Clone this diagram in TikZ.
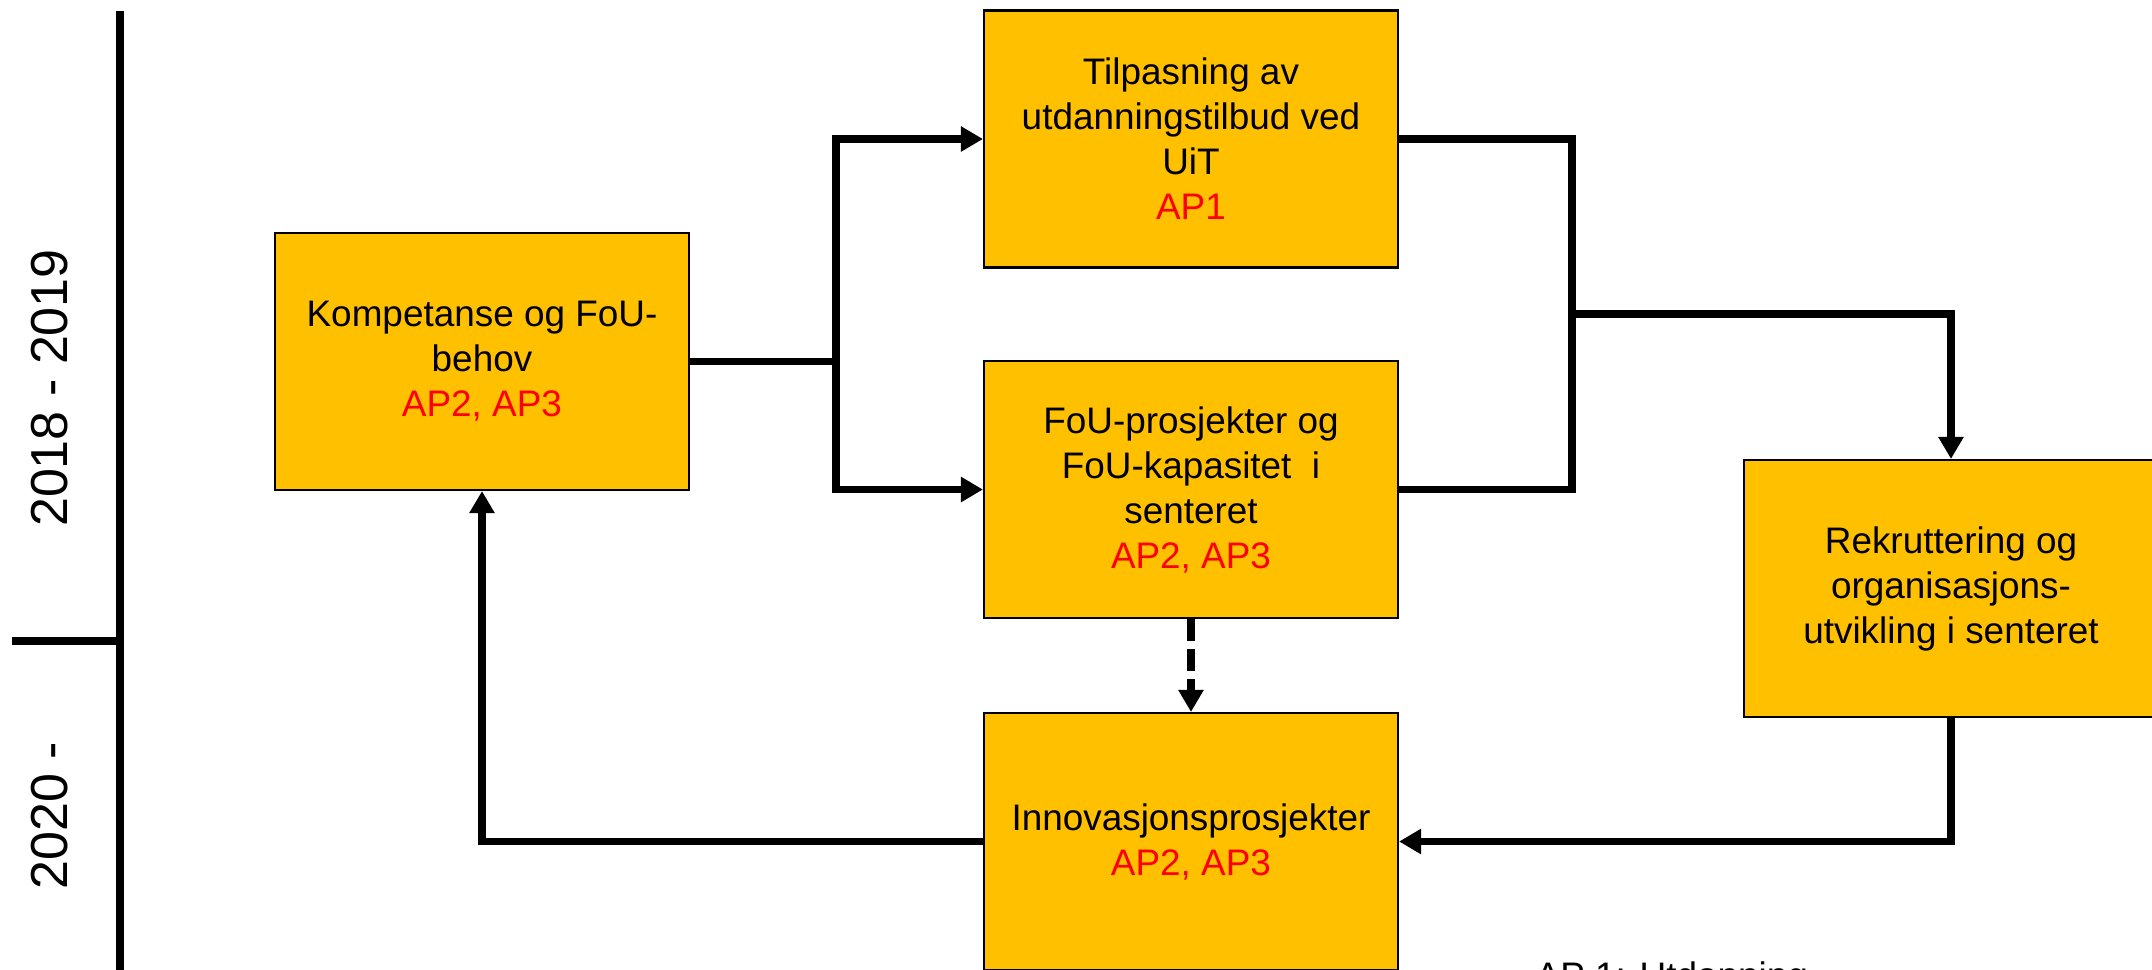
\documentclass[tikz,border=0pt]{standalone}
\usepackage{fontspec}
\setmainfont{Liberation Sans}
\usetikzlibrary{arrows.meta}
\definecolor{boxfill}{HTML}{FFC000}
\definecolor{apred}{HTML}{FF0000}

\begin{document}
\begin{tikzpicture}
		[box/.style={draw=black,line width=0.6pt,fill=boxfill,minimum width=4.14cm,minimum height=2.57cm,
			align=center,inner sep=0pt,font=\fontsize{10.5}{12.8}\selectfont},
		 line/.style={line width=2pt,black},
		 arrow/.style={line,-{Triangle[width=0.24cm,length=0.22cm]}},
		 year/.style={rotate=90,font=\fontsize{14.8}{17}\selectfont}]
		\useasboundingbox (0,0) rectangle (21.52,-9.69);

		% Time axis
		\coordinate (axtop) at (1.20,-0.11);
		\coordinate (axbot) at (1.20,-9.75);
		\coordinate (tick) at (0.12,-6.41);
		\draw[line] (axtop) -- (axbot);
		\draw[line] (tick) -- (tick -| axtop);
		\node[year] (first) at (0.50,-3.88) {2018 - 2019};
		\node[year] (second) at (0.50,-8.16) {2020 -};

		% Boxes
		\node[box] (komp) at (4.82,-3.615) {Kompetanse og FoU-\\behov\\\textcolor{apred}{AP2, AP3}};
		\node[box] (tilp) at (11.91,-1.39) {Tilpasning av\\utdanningstilbud ved\\UiT\\\textcolor{apred}{AP1}};
		\node[box] (fou) at (11.91,-4.895) {FoU-prosjekter og\\FoU-kapasitet~~i\\senteret\\\textcolor{apred}{AP2, AP3}};
		\node[box] (innov) at (11.91,-8.415) {Innovasjonsprosjekter\\\textcolor{apred}{AP2, AP3}};
		\node[box] (rekr) at (19.51,-5.885) {Rekruttering og\\organisasjons-\\utvikling i senteret};

		% Split after needs
		\coordinate (split) at (8.36,-3.615);
		\draw[line] (komp.east) -- (split);
		\draw[arrow] (split) |- (tilp.west);
		\draw[arrow] (split) |- (fou.west);

		% Merge into recruitment
		\coordinate (merge) at (15.72,-3.14);
		\draw[line] (tilp.east) -| (merge) |- (fou.east);
		\draw[arrow] (merge) -| (rekr.north);

		% Back to innovation and needs
		\draw[arrow] (rekr.south) |- (innov.east);
		\draw[arrow] (innov.west) -| (komp.south);
		\draw[arrow,dash pattern=on 0.22cm off 0.08cm] (fou.south) -- (innov.north);

		% Note, cut at the lower edge
		\node[anchor=base west,inner sep=0pt,font=\fontsize{10.5}{12.8}\selectfont] (note) at (15.35,-9.88) {AP 1: Utdanning};
	\end{tikzpicture}
\end{document}
